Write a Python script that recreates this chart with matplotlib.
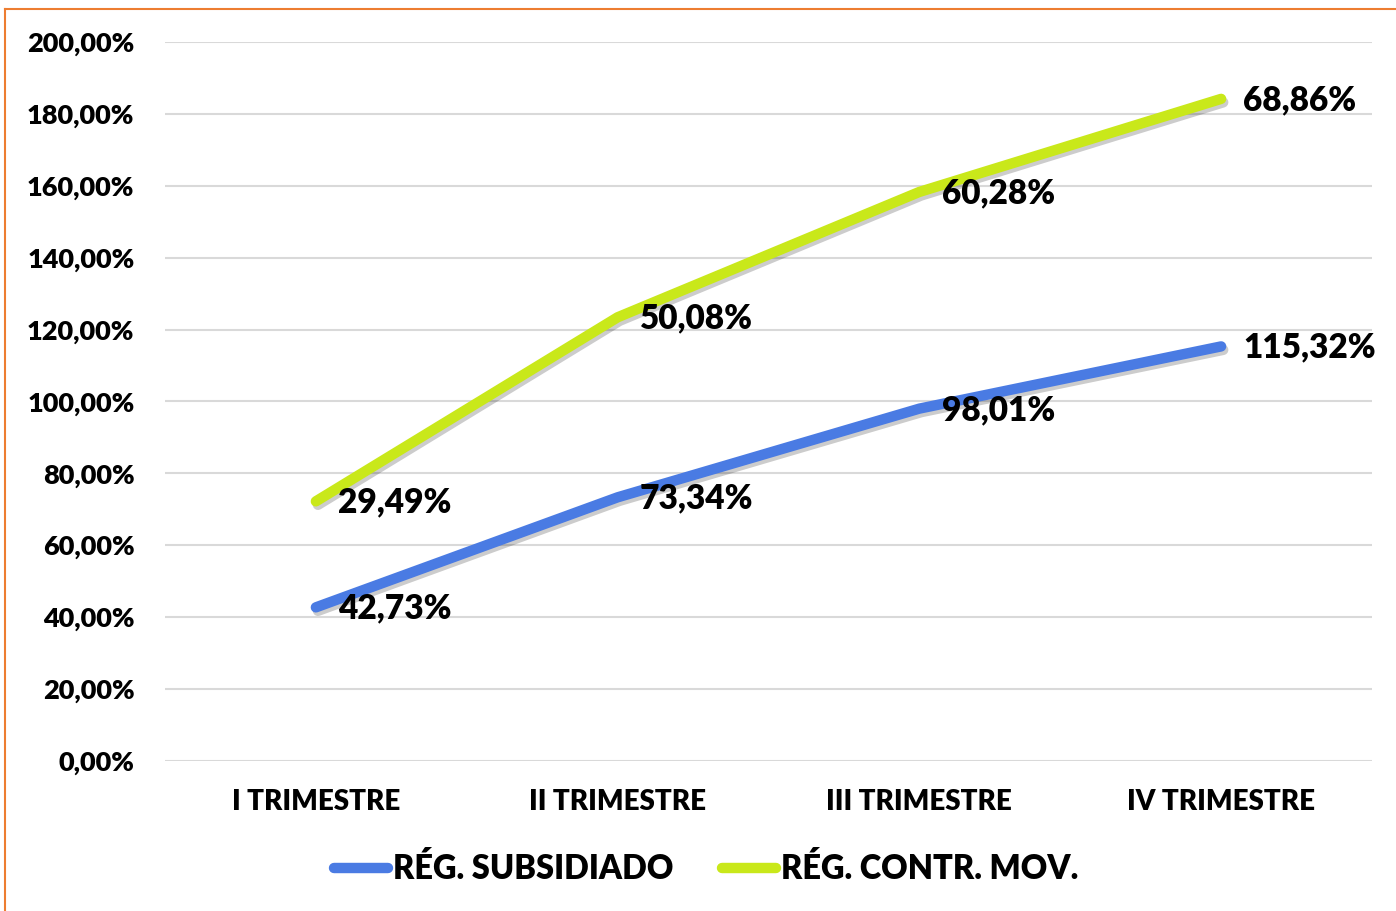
import matplotlib.pyplot as plt
import matplotlib.patheffects as pe
from matplotlib.lines import Line2D

categorias = ['I TRIMESTRE', 'II TRIMESTRE', 'III TRIMESTRE', 'IV TRIMESTRE']
subsidiado = [42.73, 73.34, 98.01, 115.32]
contributivo = [29.49, 50.08, 60.28, 68.86]
yticks = [0, 20, 40, 60, 80, 100, 120, 140, 160, 180, 200]

# lineas apiladas
apilado = [a + b for a, b in zip(subsidiado, contributivo)]

plt.rcParams['font.family'] = ['Lato', 'DejaVu Sans']
W = 'heavy'

fig = plt.figure(figsize=(13.96, 9.11), dpi=100)
ax = fig.add_axes([0.1182, 0.1647, 0.8646, 0.7892])

azul = '#4a7be3'
verde = '#c9e81a'
sombra = [pe.SimpleLineShadow(offset=(1.5, -2.5), alpha=0.2), pe.Normal()]

xs = range(len(categorias))
ax.plot(xs, subsidiado, color=azul, lw=7.5, solid_capstyle='round',
        path_effects=sombra, label='RÉG. SUBSIDIADO', zorder=3)
ax.plot(xs, apilado, color=verde, lw=7.5, solid_capstyle='round',
        path_effects=sombra, label='RÉG. CONTR. MOV.', zorder=3)

for i in xs:
    ax.annotate(f'{subsidiado[i]:.2f}%'.replace('.', ','), (i, subsidiado[i]),
                xytext=(16, -1), textcoords='offset points', ha='left', va='center',
                fontsize=24, fontweight=W, zorder=4)
    ax.annotate(f'{contributivo[i]:.2f}%'.replace('.', ','), (i, apilado[i]),
                xytext=(16, -1), textcoords='offset points', ha='left', va='center',
                fontsize=24, fontweight=W, zorder=4)

ax.set_xlim(-0.5, 3.5)
ax.set_ylim(0, 200)
ax.set_yticks(yticks)
ax.set_yticklabels([f'{v:.2f}%'.replace('.', ',') for v in yticks], fontsize=19.5, fontweight=W)
ax.set_xticks(list(xs))
ax.set_xticklabels(categorias, fontsize=20, fontweight=W)
ax.tick_params(length=0, pad=22)
ax.tick_params(axis='x', pad=20)
ax.grid(axis='y', color='#d9d9d9', lw=1.5)
ax.set_axisbelow(True)
for s in ax.spines.values():
    s.set_visible(False)

leg = fig.legend(loc='center', bbox_to_anchor=(0.506, 0.046), ncol=2, frameon=False,
                 prop={'size': 23.5, 'weight': W}, handlelength=1.65,
                 handletextpad=0.15, columnspacing=1.5)
for h in leg.get_lines():
    h.set_solid_capstyle('round')
    h.set_path_effects([pe.Normal()])

# borde naranja
fig.add_artist(Line2D([5/1396, 1], [1 - 9/911, 1 - 9/911], color='#ed7d31', lw=1.5))
fig.add_artist(Line2D([5/1396, 5/1396], [0, 1 - 9/911], color='#ed7d31', lw=1.5))

plt.savefig('out.png', dpi=100)
